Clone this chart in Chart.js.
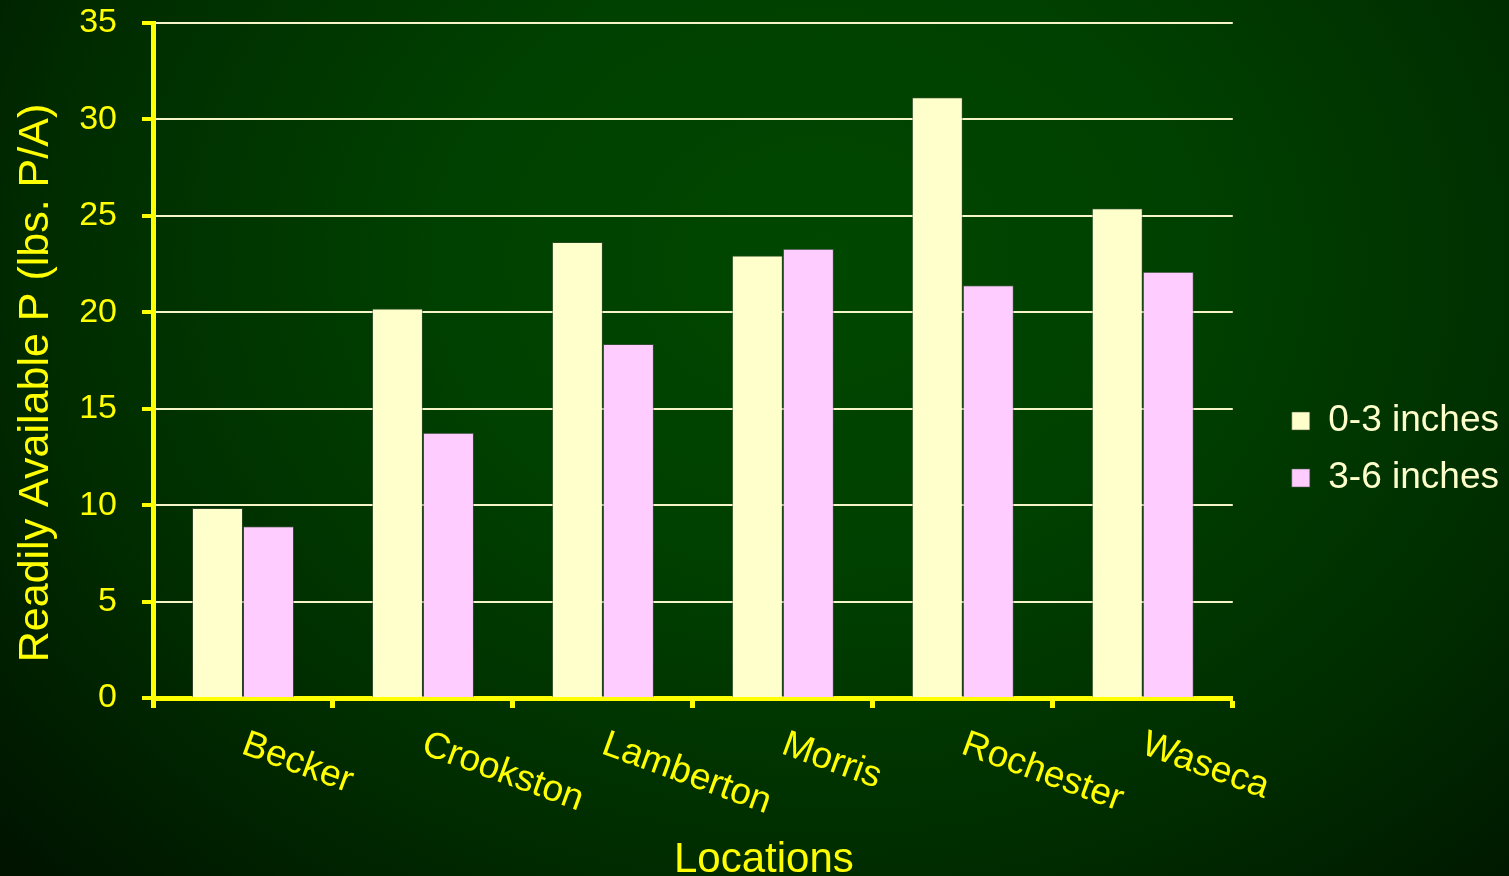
<!DOCTYPE html>
<html>
<head>
<meta charset="utf-8">
<title>Readily Available P by Location</title>
<script src="https://cdn.jsdelivr.net/npm/chart.js@4/dist/chart.umd.min.js"></script>
<style>
  html, body { margin: 0; padding: 0; background: #002200; }
  #wrap { width: 1509px; height: 876px; position: relative; }
</style>
</head>
<body>
<div id="wrap"><canvas id="chart" width="1509" height="876"></canvas></div>
<script>
// Readily available P (lbs. P/A) by sampling depth at six Minnesota locations
const locations = ['Becker', 'Crookston', 'Lamberton', 'Morris', 'Rochester', 'Waseca'];
const depth0to3 = [9.85, 20.2, 23.65, 22.95, 31.15, 25.4];
const depth3to6 = [8.9, 13.75, 18.35, 23.3, 21.4, 22.1];
const seriesNames = ['0-3 inches', '3-6 inches'];
const yTitle = 'Readily Available P (lbs. P/A)';
const xTitle = 'Locations';

const FONT = '"Liberation Sans", Arial, Helvetica, sans-serif';
const YELLOW = '#FFFF00';
Chart.defaults.font.family = FONT;

// Dark green glow behind the whole chart
const backdrop = {
  id: 'backdrop',
  beforeDraw(chart) {
    const { ctx, width, height } = chart;
    ctx.save();
    ctx.translate(820, 260);
    ctx.scale(1, 0.8);
    const g = ctx.createRadialGradient(0, 0, 0, 0, 0, 1100);
    g.addColorStop(0, '#004700');
    g.addColorStop(0.35, '#004000');
    g.addColorStop(0.7, '#002c00');
    g.addColorStop(1, '#001400');
    ctx.fillStyle = g;
    ctx.fillRect(-820, -260 / 0.8, width, height / 0.8);
    ctx.restore();
  }
};

// Slanted category labels and the two axis titles
const axisText = {
  id: 'axisText',
  afterDraw(chart) {
    const { ctx } = chart;
    const x = chart.scales.x;
    ctx.save();
    ctx.fillStyle = YELLOW;
    ctx.font = '37px ' + FONT;
    ctx.textAlign = 'left';
    ctx.textBaseline = 'alphabetic';
    locations.forEach((name, i) => {
      const px = x.getPixelForValue(i);
      ctx.save();
      ctx.translate(px - 3, x.top + 55);
      ctx.rotate(20 * Math.PI / 180);
      ctx.fillText(name, 0, 0);
      ctx.restore();
    });

    ctx.font = '42px ' + FONT;
    ctx.textAlign = 'center';
    ctx.fillText(xTitle, (x.left + x.right) / 2 + 71, 872);

    ctx.font = '43px ' + FONT;
    ctx.save();
    ctx.translate(48, 383);
    ctx.rotate(-Math.PI / 2);
    ctx.fillText(yTitle, 0, 0);
    ctx.restore();
    ctx.restore();
  }
};

new Chart(document.getElementById('chart'), {
  type: 'bar',
  data: {
    labels: locations,
    datasets: [
      {
        label: seriesNames[0],
        data: depth0to3,
        backgroundColor: '#FFFFCC',
        borderColor: 'rgba(70,80,60,0.55)',
        borderWidth: 1,
        categoryPercentage: 0.567,
        barPercentage: 1.0
      },
      {
        label: seriesNames[1],
        data: depth3to6,
        backgroundColor: '#FFCCFF',
        borderColor: 'rgba(90,90,90,0.55)',
        borderWidth: 1,
        categoryPercentage: 0.567,
        barPercentage: 1.0
      }
    ]
  },
  options: {
    responsive: false,
    animation: false,
    layout: { padding: { top: 23, right: 0, left: 0, bottom: 0 } },
    plugins: {
      legend: {
        position: 'right',
        align: 'center',
        labels: {
          boxWidth: 18,
          boxHeight: 18,
          padding: 20,
          color: '#FFFFCC',
          font: { size: 37 }
        }
      },
      tooltip: { enabled: false }
    },
    scales: {
      x: {
        grid: {
          display: true,
          drawOnChartArea: false,
          drawTicks: true,
          tickLength: 10,
          tickColor: YELLOW,
          tickWidth: 5,
          offset: true
        },
        border: { color: YELLOW, width: 5 },
        ticks: { display: false },
        afterFit(s) { s.height = 178; }
      },
      y: {
        min: 0,
        max: 35,
        ticks: {
          stepSize: 5,
          color: YELLOW,
          font: { size: 34 },
          padding: 25
        },
        grid: {
          color: '#F5F5C8',
          lineWidth: 2,
          tickColor: YELLOW,
          tickWidth: 4,
          tickLength: 11
        },
        border: { color: YELLOW, width: 5 },
        afterFit(s) {
          s.width = 153;
          s.paddingTop = 0;
          s.paddingBottom = 0;
        }
      },
      gap: {
        type: 'linear',
        position: 'right',
        display: true,
        grid: { display: false },
        ticks: { display: false },
        border: { display: false },
        afterFit(s) { s.width = 39; }
      }
    }
  },
  plugins: [backdrop, axisText]
});
</script>
</body>
</html>
